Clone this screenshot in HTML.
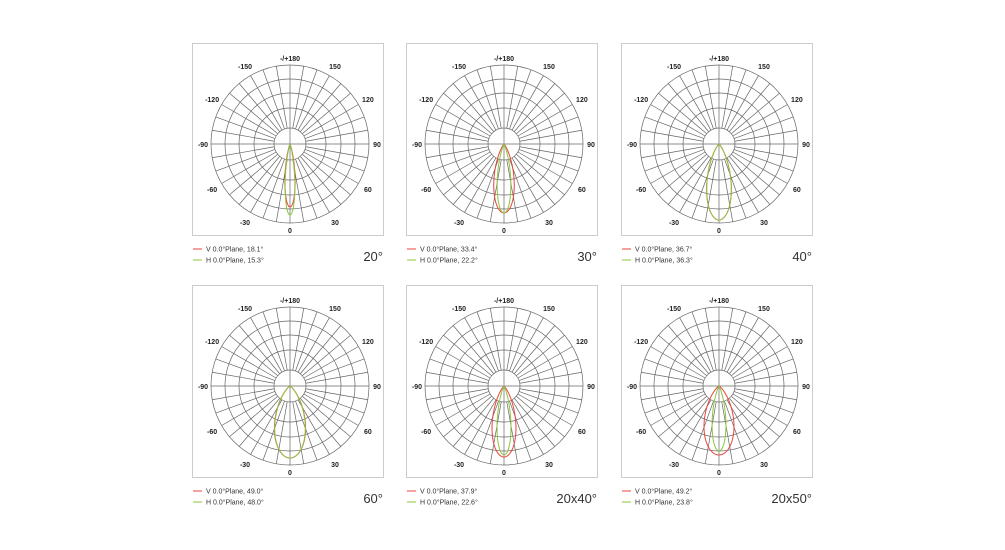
<!DOCTYPE html>
<html><head><meta charset="utf-8"><style>
html,body{margin:0;padding:0;background:#fff;width:1005px;height:550px;overflow:hidden}
svg{display:block}
</style></head><body>
<svg id="s" width="1005" height="550" xmlns="http://www.w3.org/2000/svg" font-family="Liberation Sans, sans-serif"></svg>
<script>
var s=document.getElementById('s');var h='';
var panels=[
 [192,43,'18.1','15.3','20°',63,71,0],
 [406,43,'33.4','22.2','30°',69,69,0],
 [621,43,'36.7','36.3','40°',76,76,0],
 [192,285,'49.0','48.0','60°',72,72,0],
 [406,285,'37.9','22.6','20x40°',71,69,0],
 [621,285,'49.2','23.8','20x50°',69,65,0]];
function lobe(cx,cy,L,fw,col){
 var n=Math.log(0.5)/Math.log(Math.cos(fw/2*Math.PI/180));
 var d='';
 for(var a=-90;a<=90;a+=1){var t=a*Math.PI/180;var r=L*Math.pow(Math.max(Math.cos(t),0),n);
  var x=cx+r*Math.sin(t),y=cy+r*Math.cos(t);d+=(a==-90?'M':'L')+x.toFixed(2)+' '+y.toFixed(2);}
 return '<path d="'+d+'Z" fill="none" stroke="'+col+'" stroke-width="1"/>';
}
panels.forEach(function(p){
 var x0=p[0],y0=p[1],cx=x0+98,cy=y0+101;
 h+='<rect x="'+(x0+0.5)+'" y="'+(y0+0.5)+'" width="191" height="192" fill="#fff" stroke="#ccc"/>';
 [16,36,51,65,79].forEach(function(r){h+='<circle cx="'+cx+'" cy="'+cy+'" r="'+r+'" fill="none" stroke="#666" stroke-width="0.7"/>';});
 for(var a=0;a<360;a+=10){var t=a*Math.PI/180;var r0=(a%90==0)?0:16;
  h+='<line x1="'+(cx+r0*Math.sin(t)).toFixed(2)+'" y1="'+(cy+r0*Math.cos(t)).toFixed(2)+'" x2="'+(cx+79*Math.sin(t)).toFixed(2)+'" y2="'+(cy+79*Math.cos(t)).toFixed(2)+'" stroke="#666" stroke-width="0.7"/>';}
 var labs=[[0,'0'],[30,'30'],[60,'60'],[90,'90'],[120,'120'],[150,'150'],[180,'-/+180'],[-30,'-30'],[-60,'-60'],[-90,'-90'],[-120,'-120'],[-150,'-150']];
 labs.forEach(function(l){var t=l[0]*Math.PI/180;var R=(Math.abs(l[0])==90)?87:(l[0]==0||l[0]==180?86:90);
  var x=cx+R*Math.sin(t),y=cy+R*Math.cos(t)+3;
  h+='<text x="'+x.toFixed(1)+'" y="'+y.toFixed(1)+'" font-size="7" font-weight="bold" text-anchor="middle" fill="#222">'+l[1]+'</text>';});
 h+=lobe(cx,cy,p[5],parseFloat(p[2]),'#e8453c');
 h+=lobe(cx,cy,p[6],parseFloat(p[3]),'#8cc63f');
 var ly=y0+206;
 h+='<line x1="'+(x0+1)+'" y1="'+ly+'" x2="'+(x0+10)+'" y2="'+ly+'" stroke="#e8453c"/>';
 h+='<text x="'+(x0+14)+'" y="'+(ly+2.5)+'" font-size="7" fill="#333">V 0.0°Plane,  '+p[2]+'°</text>';
 h+='<line x1="'+(x0+1)+'" y1="'+(ly+11)+'" x2="'+(x0+10)+'" y2="'+(ly+11)+'" stroke="#8cc63f"/>';
 h+='<text x="'+(x0+14)+'" y="'+(ly+13.5)+'" font-size="7" fill="#333">H 0.0°Plane,  '+p[3]+'°</text>';
 h+='<text x="'+(x0+191)+'" y="'+(y0+218)+'" font-size="13" text-anchor="end" fill="#333">'+p[4]+'</text>';
});
s.innerHTML=h;
</script>
</body></html>
